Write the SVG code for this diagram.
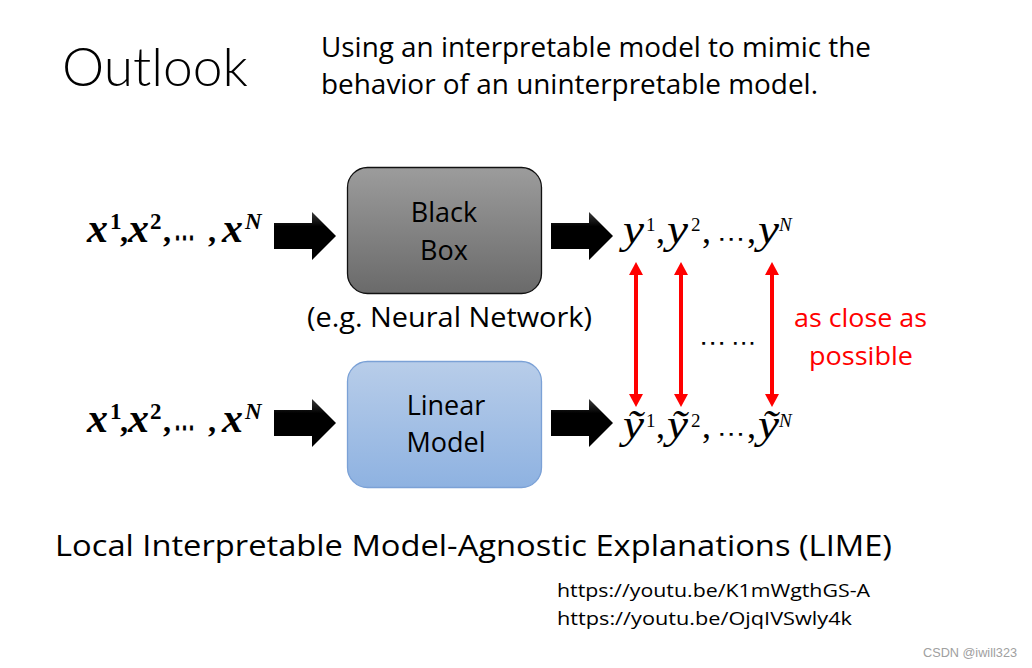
<svg xmlns="http://www.w3.org/2000/svg" width="1032" height="668" viewBox="0 0 1032 668">
<style>
  .t { font-family: "Open Sans", "Liberation Sans", sans-serif; fill: #000; }
  .lbl { font-family: "Open Sans", "Liberation Sans", sans-serif; font-size: 27px; fill: #000; text-anchor: middle; }
  .mb { font-family: "Liberation Serif", "DejaVu Serif", serif; font-weight: bold; font-style: italic; font-size: 40px; fill: #000; }
  .mbc { font-family: "Liberation Serif", "DejaVu Serif", serif; font-weight: bold; font-size: 32px; fill: #000; }
  .mbs { font-family: "Liberation Serif", "DejaVu Serif", serif; font-weight: bold; font-size: 23px; fill: #000; }
  .mbsi { font-family: "Liberation Serif", "DejaVu Serif", serif; font-weight: bold; font-style: italic; font-size: 23px; fill: #000; }
  .m { font-family: "Liberation Serif", "DejaVu Serif", serif; font-style: italic; font-size: 40px; fill: #000; }
  .mu { font-family: "Liberation Serif", "DejaVu Serif", serif; font-size: 36px; fill: #000; }
  .ms { font-family: "Liberation Serif", "DejaVu Serif", serif; font-size: 19px; fill: #000; }
  .msi { font-family: "Liberation Serif", "DejaVu Serif", serif; font-style: italic; font-size: 19px; fill: #000; }
  .dots { font-family: "DejaVu Sans", sans-serif; font-size: 22px; fill: #000; }
  .bdots { font-family: "DejaVu Serif", serif; font-weight: bold; font-size: 34px; fill: #000; }
  .red { font-family: "Open Sans", "Liberation Sans", sans-serif; font-size: 26px; fill: #ff0000; }
  .fat { fill: url(#arrowGrad); }
  .rl { stroke: #ff0000; stroke-width: 4; fill: none; marker-start: url(#redHead); marker-end: url(#redHead); }
</style>
<defs>
  <linearGradient id="grayGrad" x1="0" y1="0" x2="0" y2="1">
    <stop offset="0" stop-color="#9c9c9c"/>
    <stop offset="1" stop-color="#6a6a6a"/>
  </linearGradient>
  <linearGradient id="blueGrad" x1="0" y1="0" x2="0" y2="1">
    <stop offset="0" stop-color="#b8cde9"/>
    <stop offset="1" stop-color="#8eb2e1"/>
  </linearGradient>
  <linearGradient id="arrowGrad" x1="0" y1="0" x2="0" y2="1">
    <stop offset="0" stop-color="#3a3a3a"/>
    <stop offset="0.3" stop-color="#000"/>
    <stop offset="1" stop-color="#000"/>
  </linearGradient>
  <marker id="redHead" viewBox="0 0 13 14" refX="6" refY="7" markerWidth="13" markerHeight="14" markerUnits="userSpaceOnUse" orient="auto-start-reverse">
    <path d="M0,0 L13,7 L0,14 Z" fill="#ff0000"/>
  </marker>
</defs>

<rect width="1032" height="668" fill="#ffffff"/>

<g id="title">
  <text x="62" y="86" style="font-family: Lato, 'Open Sans', sans-serif; font-weight: 300; font-size: 54px;" textLength="186" lengthAdjust="spacingAndGlyphs">Outlook</text>
  <text class="t" x="321" y="57" font-size="27" textLength="550" lengthAdjust="spacingAndGlyphs">Using an interpretable model to mimic the</text>
  <text class="t" x="321" y="94" font-size="27" textLength="497" lengthAdjust="spacingAndGlyphs">behavior of an uninterpretable model.</text>
</g>

<g id="input-top">
  <text class="mb" x="87" y="242" textLength="21" lengthAdjust="spacingAndGlyphs">x</text>
  <text class="mbs" x="110" y="229">1</text>
  <text class="mbc" x="120" y="242">,</text>
  <text class="mb" x="128" y="242" textLength="21" lengthAdjust="spacingAndGlyphs">x</text>
  <text class="mbs" x="150" y="229">2</text>
  <text class="mbc" x="163" y="242">,</text>
  <text class="bdots" x="174" y="249" textLength="21" lengthAdjust="spacingAndGlyphs">⋯</text>
  <text class="mbc" x="208" y="242">,</text>
  <text class="mb" x="222" y="242" textLength="21" lengthAdjust="spacingAndGlyphs">x</text>
  <text class="mbsi" x="245" y="229">N</text>
</g>

<g id="input-bottom">
  <text class="mb" x="87" y="432" textLength="21" lengthAdjust="spacingAndGlyphs">x</text>
  <text class="mbs" x="110" y="419">1</text>
  <text class="mbc" x="120" y="432">,</text>
  <text class="mb" x="128" y="432" textLength="21" lengthAdjust="spacingAndGlyphs">x</text>
  <text class="mbs" x="150" y="419">2</text>
  <text class="mbc" x="163" y="432">,</text>
  <text class="bdots" x="174" y="439" textLength="21" lengthAdjust="spacingAndGlyphs">⋯</text>
  <text class="mbc" x="208" y="432">,</text>
  <text class="mb" x="222" y="432" textLength="21" lengthAdjust="spacingAndGlyphs">x</text>
  <text class="mbsi" x="245" y="419">N</text>
</g>

<g id="black-box">
  <rect x="347.5" y="167.5" width="194" height="126" rx="20" ry="20" fill="url(#grayGrad)" stroke="#111" stroke-width="1.3"/>
  <text class="lbl" x="444" y="222">Black</text>
  <text class="lbl" x="444" y="260">Box</text>
  <text class="t" x="307" y="327" font-size="27" textLength="285" lengthAdjust="spacingAndGlyphs">(e.g. Neural Network)</text>
</g>

<g id="linear-model">
  <rect x="347.5" y="361.5" width="194" height="126" rx="20" ry="20" fill="url(#blueGrad)" stroke="#7ba1d6" stroke-width="1.3"/>
  <text class="lbl" x="446" y="415">Linear</text>
  <text class="lbl" x="446" y="452">Model</text>
</g>

<g id="output-top">
  <text class="m" x="623" y="243" textLength="21" lengthAdjust="spacingAndGlyphs">y</text>
  <text class="ms" x="646" y="231">1</text>
  <text class="mu" x="656" y="243">,</text>
  <text class="m" x="667" y="243" textLength="21" lengthAdjust="spacingAndGlyphs">y</text>
  <text class="ms" x="691" y="231">2</text>
  <text class="mu" x="702" y="243">,</text>
  <text class="dots" x="717" y="246" textLength="28" lengthAdjust="spacingAndGlyphs">⋯</text>
  <text class="mu" x="747" y="243">,</text>
  <text class="m" x="758" y="243" textLength="21" lengthAdjust="spacingAndGlyphs">y</text>
  <text class="msi" x="779" y="231">N</text>
</g>

<g id="output-bottom">
  <text class="m" x="623" y="438" textLength="21" lengthAdjust="spacingAndGlyphs">ỹ</text>
  <text class="ms" x="646" y="427">1</text>
  <text class="mu" x="656" y="438">,</text>
  <text class="m" x="667" y="438" textLength="21" lengthAdjust="spacingAndGlyphs">ỹ</text>
  <text class="ms" x="691" y="427">2</text>
  <text class="mu" x="702" y="438">,</text>
  <text class="dots" x="717" y="441" textLength="28" lengthAdjust="spacingAndGlyphs">⋯</text>
  <text class="mu" x="747" y="438">,</text>
  <text class="m" x="758" y="438" textLength="21" lengthAdjust="spacingAndGlyphs">ỹ</text>
  <text class="msi" x="779" y="427">N</text>
</g>

<g id="connectors">
  <path class="fat" d="M274,223 L312,223 L312,212 L336,236 L312,260 L312,249 L274,249 Z"/>
  <path class="fat" d="M551,223 L589,223 L589,212 L613,236 L589,260 L589,249 L551,249 Z"/>
  <path class="fat" d="M274,410 L312,410 L312,399 L336,423 L312,447 L312,436 L274,436 Z"/>
  <path class="fat" d="M551,410 L589,410 L589,399 L613,423 L589,447 L589,436 L551,436 Z"/>
  <line class="rl" x1="636" y1="269" x2="636" y2="400"/>
  <line class="rl" x1="681" y1="269" x2="681" y2="400"/>
  <line class="rl" x1="772" y1="269" x2="772" y2="400"/>
</g>

<g id="ellipsis">
  <text class="dots" x="699" y="350" font-size="26" textLength="27" lengthAdjust="spacingAndGlyphs">⋯</text>
  <text class="dots" x="731" y="350" font-size="26" textLength="25" lengthAdjust="spacingAndGlyphs">⋯</text>
</g>

<g id="note">
  <text class="red" x="794" y="327" textLength="133" lengthAdjust="spacingAndGlyphs">as close as</text>
  <text class="red" x="809" y="365" textLength="104" lengthAdjust="spacingAndGlyphs">possible</text>
</g>

<g id="footer">
  <text class="t" x="55" y="556" font-size="29" textLength="837" lengthAdjust="spacingAndGlyphs">Local Interpretable Model-Agnostic Explanations (LIME)</text>
  <text class="t" x="557" y="597" font-size="19" textLength="313" lengthAdjust="spacingAndGlyphs">https://youtu.be/K1mWgthGS-A</text>
  <text class="t" x="557" y="625" font-size="19" textLength="295" lengthAdjust="spacingAndGlyphs">https://youtu.be/OjqIVSwly4k</text>
  <text x="923" y="657" style="font-family: 'Liberation Sans', sans-serif; font-size: 13px; fill: #a0a0a0;" textLength="94" lengthAdjust="spacingAndGlyphs">CSDN @iwill323</text>
</g>
</svg>
